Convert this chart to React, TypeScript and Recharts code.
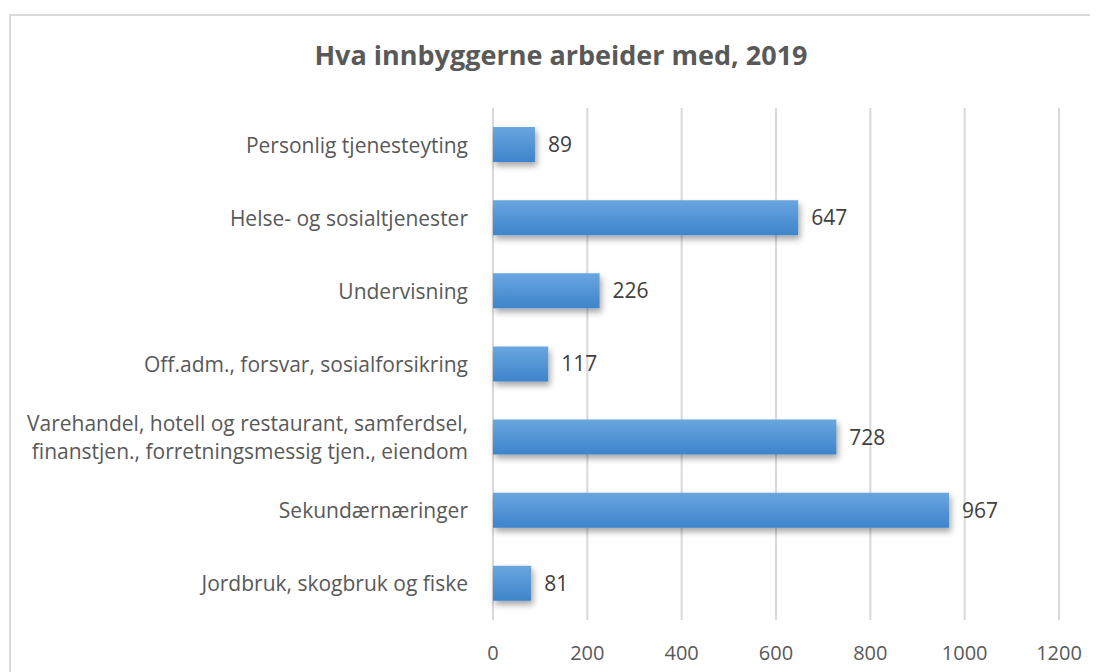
import { Bar, BarChart, CartesianGrid, LabelList, XAxis, YAxis } from "recharts"

const categories = [
  "Personlig tjenesteyting",
  "Helse- og sosialtjenester",
  "Undervisning",
  "Off.adm., forsvar, sosialforsikring",
  "Varehandel, hotell og restaurant, samferdsel,|finanstjen., forretningsmessig tjen., eiendom",
  "Sekundærnæringer",
  "Jordbruk, skogbruk og fiske",
]
const employed = [89, 647, 226, 117, 728, 967, 81]
const xTicks = [0, 200, 400, 600, 800, 1000, 1200]

const data = categories.map((name, i) => ({ name, value: employed[i] }))

const font = "'Open Sans', sans-serif"

function CategoryTick(props: any) {
  const { x, y, payload } = props
  const lines = String(payload.value).split("|")
  const lh = 28
  const startY = y - ((lines.length - 1) * lh) / 2
  return (
    <text x={x} y={startY} textAnchor="end" fill="#595959" fontSize={21} fontFamily={font} dominantBaseline="central">
      {lines.map((l, i) => (
        <tspan key={i} x={x} y={startY + i * lh}>
          {l}
        </tspan>
      ))}
    </text>
  )
}

export default function App() {
  return (
    <div style={{ position: "relative", width: 1090, height: 664, fontFamily: font }}>
      <div
        style={{
          position: "absolute",
          left: 1,
          top: 6,
          right: -4,
          bottom: -4,
          borderTop: "2px solid #d9d9d9",
          borderLeft: "2px solid #d9d9d9",
        }}
      />
      <div
        style={{
          position: "absolute",
          left: 0,
          top: 28,
          width: 1106,
          textAlign: "center",
          fontSize: 27,
          fontWeight: 700,
          color: "#595959",
        }}
      >
        Hva innbyggerne arbeider med, 2019
      </div>
      <BarChart
        width={1090}
        height={664}
        data={data}
        layout="vertical"
        margin={{ top: 100, right: 39, bottom: 4, left: 0 }}
        barCategoryGap="26%"
        style={{ position: "absolute", left: 0, top: 0 }}
      >
        <defs>
          <linearGradient id="barFill" x1="0" y1="0" x2="0" y2="1">
            <stop offset="0%" stopColor="#6aa6e0" />
            <stop offset="100%" stopColor="#3d84cb" />
          </linearGradient>
          <filter id="shadow" x="-10%" y="-20%" width="130%" height="160%">
            <feDropShadow dx="2" dy="4" stdDeviation="3" floodColor="#000" floodOpacity="0.35" />
          </filter>
        </defs>
        <CartesianGrid horizontal={false} stroke="#d9d9d9" strokeWidth={2} />
        <XAxis
          type="number"
          domain={[0, 1200]}
          ticks={xTicks}
          axisLine={false}
          tickLine={false}
          height={48}
          tick={{ fill: "#595959", fontSize: 20, fontFamily: font }}
          tickMargin={20}
        />
        <YAxis
          type="category"
          dataKey="name"
          width={485}
          axisLine={false}
          tickLine={false}
          tick={<CategoryTick />}
          tickMargin={19}
        />
        <Bar dataKey="value" fill="url(#barFill)" filter="url(#shadow)" isAnimationActive={false}>
          <LabelList dataKey="value" position="right" offset={13} fill="#404040" fontSize={21} fontFamily={font} />
        </Bar>
      </BarChart>
    </div>
  )
}
